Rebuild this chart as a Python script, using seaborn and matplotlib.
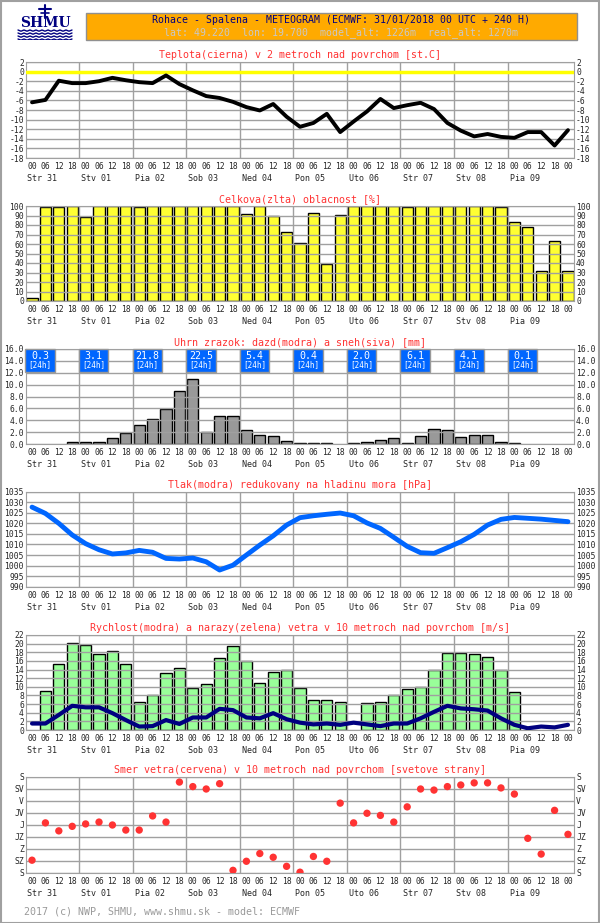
import numpy as np
import pandas as pd
import matplotlib
matplotlib.use('Agg')
import matplotlib.pyplot as plt
import seaborn as sns
from matplotlib.patches import Rectangle
from matplotlib.ticker import FixedLocator

sns.set_style('white')
plt.rcParams['font.family'] = ['DejaVu Sans Mono']

W, H = 600, 923
RED = '#ff3333'
GRID = '#a0a0a0'

# time axis: 6-hourly steps, 31/01/2018 00 UTC + 240 h
hours = ['00', '06', '12', '18'] * 10 + ['00']
days = ['Str 31', 'Stv 01', 'Pia 02', 'Sob 03', 'Ned 04',
        'Pon 05', 'Uto 06', 'Str 07', 'Stv 08', 'Pia 09']

temperature = [-6.4, -5.9, -1.9, -2.4, -2.4, -2.0, -1.3, -1.8, -2.2, -2.4,
               -0.8, -2.6, -3.9, -5.1, -5.5, -6.3, -7.4, -8.1, -6.75, -9.4,
               -11.5, -10.7, -8.8, -12.6, -10.4, -8.3, -5.7, -7.6, -7.0, -6.5,
               -7.8, -10.7, -12.3, -13.5, -13.0, -13.6, -13.8, -12.6, -12.6, -15.4,
               -12.2]

cloud = [3, 99, 99, 100, 88, 100, 100, 100, 99, 100,
         100, 100, 100, 100, 100, 100, 92, 100, 90, 73,
         61, 93, 39, 91, 100, 100, 100, 100, 99, 100,
         100, 100, 100, 100, 100, 99, 83, 78, 32, 63,
         32]

precip = [0, 0, 0, 0.3, 0.3, 0.3, 1.0, 1.8, 3.2, 4.2,
          5.9, 8.9, 11.0, 2.1, 4.7, 4.8, 2.3, 1.5, 1.3, 0.5,
          0.2, 0.1, 0.1, 0, 0.1, 0.3, 0.7, 1.0, 0.1, 1.3,
          2.6, 2.3, 1.1, 1.5, 1.5, 0.3, 0.1, 0, 0, 0,
          0]
precip_24h = [0.3, 3.1, 21.8, 22.5, 5.4, 0.4, 2.0, 6.1, 4.1, 0.1]

pressure = [1027.7, 1024.7, 1020.0, 1014.5, 1010.4, 1007.5, 1005.5, 1006.0, 1007.2, 1006.3,
            1003.4, 1003.1, 1003.6, 1001.8, 997.9, 1000.2, 1005.0, 1009.7, 1014.1, 1019.2,
            1022.7, 1023.6, 1024.3, 1024.9, 1023.6, 1020.2, 1017.6, 1013.4, 1009.1, 1006.1,
            1005.8, 1008.5, 1011.3, 1014.8, 1019.2, 1021.9, 1022.8, 1022.4, 1022.0, 1021.4,
            1020.8]

gusts = [0, 9.0, 15.4, 20.2, 19.6, 17.5, 18.4, 15.4, 6.6, 8.0,
         13.1, 14.4, 9.7, 10.6, 16.6, 19.4, 15.9, 11.0, 13.4, 13.8,
         9.7, 6.9, 6.9, 6.6, 0, 6.2, 6.6, 8.0, 9.4, 10.0,
         13.8, 17.8, 17.9, 17.5, 16.8, 13.9, 8.7, 0, 0, 0,
         0]

wind_speed = [1.5, 1.5, 3.5, 5.6, 5.25, 5.25, 3.9, 2.3, 0.8, 0.9,
              2.3, 1.4, 2.9, 2.9, 4.9, 4.6, 2.9, 2.7, 3.9, 2.5,
              1.7, 1.3, 1.5, 1.2, 1.7, 1.3, 0.9, 1.5, 1.5, 2.7,
              4.2, 5.6, 5.0, 4.8, 4.5, 2.7, 1.2, 0.4, 0.8, 0.6,
              1.2]

# direction in degrees (0 = S top, 360 = S bottom)
wind_dir = [312, 172, 202, 185, 176, 169, 180, 199, 199, 146,
            169, 19, 36, 45, 25, 350, 316, 287, 301, 335,
            357, 298, 316, 98, 172, 136, 144, 169, 112, 45,
            49, 36, 30, 22, 22, 41, 64, 230, 289, 125,
            215]
dir_labels = ['S', 'SV', 'V', 'JV', 'J', 'JZ', 'Z', 'SZ', 'S']

idx = np.arange(len(hours))
day_edges = [4 * k - 0.5 for k in range(1, len(days))]

fig = plt.figure(figsize=(W / 100, H / 100), dpi=100)


def make_panel(top, bottom, title):
    ax = fig.add_axes([26 / W, 1 - bottom / H, 548 / W, (bottom - top) / H])
    fig.text(0.5, 1 - (top - 7) / H, title, color=RED, fontsize=7.2,
             ha='center', va='center')
    return ax


def finish_panel(ax, yticks, ylabels, ylim):
    ax.set_xlim(-0.45, 40.45)
    ax.set_ylim(*ylim)
    ax.set_yticks(yticks)
    ax.set_yticklabels(ylabels)
    ax.set_xticks(idx)
    ax.set_xticklabels(hours)
    ax.xaxis.set_minor_locator(FixedLocator(day_edges))
    ax.tick_params(axis='both', which='both', length=0, labelsize=5.8)
    ax.tick_params(axis='x', pad=3)
    ax.tick_params(axis='y', pad=1.5, labelright=True)
    ax.grid(False)
    ax.grid(axis='y', which='major', color=GRID, lw=1)
    ax.grid(axis='x', which='minor', color=GRID, lw=1)
    ax.set_axisbelow(False)
    for s in ax.spines.values():
        s.set_color(GRID)
    ax.set_xlabel('')
    ax.set_ylabel('')
    for k, d in enumerate(days):
        ax.annotate(d, xy=(4 * k - 0.5, 0), xycoords=('data', 'axes fraction'),
                    xytext=(1.5, -15), textcoords='offset points',
                    fontsize=6, ha='left', va='center')


def bars(ax, values, color):
    df = pd.DataFrame({'t': idx, 'v': values})
    df = df[df['v'] > 0]
    sns.barplot(data=df, x='t', y='v', native_scale=True, orient='x', width=0.84,
                color=color, saturation=1, edgecolor='black', linewidth=1,
                errorbar=None, ax=ax)


# --- temperature ---
ax = make_panel(62, 158, 'Teplota(cierna) v 2 metroch nad povrchom [st.C]')
ax.axhline(0, color='#ffff00', lw=2.5, zorder=2.6)
sns.lineplot(x=idx, y=temperature, color='black', lw=2.8, zorder=3, ax=ax)
t_ticks = list(range(2, -20, -2))
finish_panel(ax, t_ticks, [str(t) for t in t_ticks], (-18, 2))

# --- cloud cover ---
ax = make_panel(206, 301, 'Celkova(zlta) oblacnost [%]')
bars(ax, cloud, '#ffff33')
c_ticks = list(range(0, 101, 10))
finish_panel(ax, c_ticks, [str(t) for t in c_ticks], (0, 100))

# --- precipitation ---
ax = make_panel(349, 444, 'Uhrn zrazok: dazd(modra) a sneh(siva) [mm]')
bars(ax, precip, '#999999')
p_ticks = list(range(0, 17, 2))
finish_panel(ax, p_ticks, ['%.1f' % t for t in p_ticks], (0, 16))
for k, tot in enumerate(precip_24h):
    x0 = 4 * k - 0.5
    ax.add_patch(Rectangle((x0, 12.1), 2.2, 3.9, facecolor='#0066ff',
                           edgecolor='#999999', lw=1, zorder=4, clip_on=False))
    ax.text(x0 + 1.1, 14.75, '%.1f' % tot, color='white', fontsize=7.2,
            ha='center', va='center', zorder=5)
    ax.text(x0 + 1.1, 13.3, '[24h]', color='white', fontsize=5.5,
            ha='center', va='center', zorder=5)

# --- pressure ---
ax = make_panel(491.7, 586.7, 'Tlak(modra) redukovany na hladinu mora [hPa]')
sns.lineplot(x=idx, y=pressure, color='#0066ff', lw=3.5, zorder=3, ax=ax)
pr_ticks = list(range(990, 1036, 5))
finish_panel(ax, pr_ticks, [str(t) for t in pr_ticks], (990, 1035))

# --- wind speed and gusts ---
ax = make_panel(635, 730, 'Rychlost(modra) a narazy(zelena) vetra v 10 metroch nad povrchom [m/s]')
bars(ax, gusts, '#99ff99')
sns.lineplot(x=idx, y=wind_speed, color='#000080', lw=3, zorder=3, ax=ax)
w_ticks = list(range(0, 23, 2))
finish_panel(ax, w_ticks, [str(t) for t in w_ticks], (0, 22))

# --- wind direction ---
ax = make_panel(777, 873, 'Smer vetra(cervena) v 10 metroch nad povrchom [svetove strany]')
sns.scatterplot(x=idx, y=wind_dir, color=RED, s=28, edgecolor='none', zorder=3, ax=ax)
finish_panel(ax, list(range(0, 361, 45)), dir_labels, (360, 0))

# --- header ---
fig.add_artist(Rectangle((86 / W, 1 - 39.5 / H), (577 - 86) / W, 26.5 / H,
                         transform=fig.transFigure, facecolor='#ffaa00',
                         edgecolor='#909090', lw=1))
fig.text(341 / W, 1 - 20 / H, 'Rohace - Spalena - METEOGRAM (ECMWF: 31/01/2018 00 UTC + 240 H)',
         color='#000080', fontsize=7.1, ha='center', va='center')
fig.text(341 / W, 1 - 33 / H, 'lat: 49.220  lon: 19.700  model_alt: 1226m  real_alt: 1270m',
         color='#c8c8c8', fontsize=7.1, ha='center', va='center')

# logo: antenna, lettering and waves
lg = fig.add_axes([14 / W, 1 - 40 / H, 62 / W, 37 / H])
lg.set_xlim(0, 62)
lg.set_ylim(37, 0)
lg.axis('off')
lg.plot([31, 31], [2, 15], color='#000080', lw=1.5)
lg.plot([25, 37], [6, 6], color='#000080', lw=1.5)
lg.plot([27, 35], [10, 10], color='#000080', lw=1.2)
lg.text(31, 20, 'SHMU', color='#000080', fontsize=10, fontweight='bold',
        family='DejaVu Serif', ha='center', va='center')
wave_x = list(range(4, 60, 3))
for y0 in (27, 30, 33, 36):
    lg.plot(wave_x, [y0 + (i % 2) * 1.2 for i in range(len(wave_x))],
            color='#000080', lw=1)

# footer and frame
fig.text(24 / W, 1 - 912 / H, '2017 (c) NWP, SHMU, www.shmu.sk - model: ECMWF',
         color='#999999', fontsize=7.2, ha='left', va='center')
fig.add_artist(Rectangle((0.5 / W, 0.5 / H), 1 - 1.5 / W, 1 - 1.5 / H,
                         transform=fig.transFigure, fill=False, edgecolor='#a0a0a0', lw=1.5))

fig.savefig('out.png', dpi=100)
